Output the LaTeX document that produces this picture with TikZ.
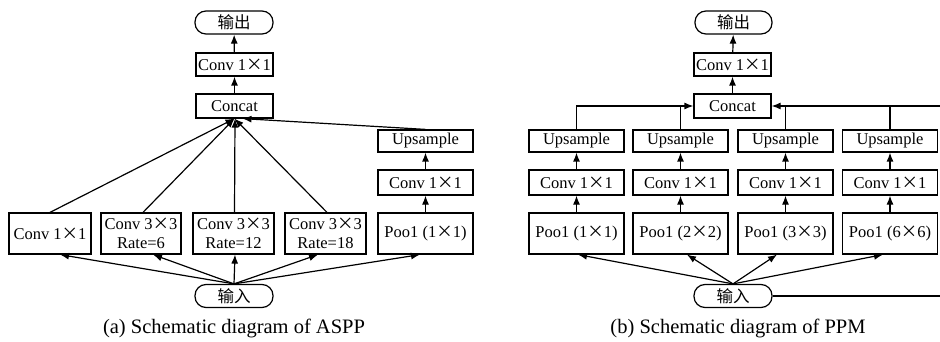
\documentclass[tikz,border=0pt]{standalone}
\usepackage{fontspec}
\setmainfont{Liberation Serif}
\newfontfamily\cjk{Noto Sans CJK SC}
\usetikzlibrary{arrows.meta}
\newcommand\tms{{\cjk ×}}
\begin{document}
\begin{tikzpicture}[x=1pt,y=-1pt,
  box/.style={draw,line width=1.2pt,inner sep=0pt,font=\fontsize{16.5}{18}\selectfont,align=center},
  pill/.style={box,rounded corners=11pt,minimum width=78pt,minimum height=23pt},
  arr/.style={line width=1.2pt,-{Latex[length=9pt,width=7pt]}},
  ln/.style={line width=1.2pt},
  captext/.style={font=\fontsize{20.5}{22}\selectfont}]
\useasboundingbox (0,0) rectangle (940,342);
% ---------- (a) ASPP ----------
\node[pill] (outa) at (234,22.5) {\cjk 输出};
\node[box,minimum width=77pt,minimum height=23pt] (c1a) at (234.5,64.5) {Conv 1\tms1};
\node[box,minimum width=77pt,minimum height=24pt] (cata) at (234.5,106) {Concat};
\node[box,minimum width=95pt,minimum height=22pt] (upa) at (425.5,141) {Upsample};
\node[box,minimum width=95pt,minimum height=25pt] (cva) at (425.5,182.5) {Conv 1\tms1};
\node[box,minimum width=82pt,minimum height=41pt] (a1) at (50,233.5) {Conv 1\tms1};
\node[box,minimum width=80pt,minimum height=41pt,font=\fontsize{16.5}{19}\selectfont] (a2) at (141,233.5) {Conv 3\tms3\\Rate=6};
\node[box,minimum width=81pt,minimum height=41pt,font=\fontsize{16.5}{19}\selectfont] (a3) at (233.5,233.5) {Conv 3\tms3\\Rate=12};
\node[box,minimum width=81pt,minimum height=41pt,font=\fontsize{16.5}{19}\selectfont] (a4) at (325.5,233.5) {Conv 3\tms3\\Rate=18};
\node[box,minimum width=95pt,minimum height=41pt] (a5) at (425.5,233.5) {Poo1 (1\tms1)};
\node[pill] (ina) at (234,296) {\cjk 输入};
\node[captext] (capa) at (234,328) {(a) Schematic diagram of ASPP};
\draw[arr] (c1a) -- (outa);
\draw[arr] (cata) -- (c1a);
\draw[arr] (cva) -- (upa);
\draw[arr] (a5) -- (cva);
\draw[arr] (a1.north) -- (cata.south);
\draw[arr] ([xshift=2pt]a2.north) -- (cata.south);
\draw[arr] ([xshift=1pt]a3.north) -- ([xshift=0.5pt]cata.south);
\draw[arr] ([xshift=1.5pt]a4.north) -- (cata.south);
\draw[arr] (upa.north) -- ([xshift=8pt]cata.south);
\draw[arr] (ina.north) -- ([xshift=10pt]a1.south);
\draw[arr] (ina.north) -- ([xshift=12pt]a2.south);
\draw[arr] (ina.north) -- ([xshift=1.5pt]a3.south);
\draw[arr] (ina.north) -- ([xshift=-7.5pt]a4.south);
\draw[arr] (ina.north) -- ([xshift=-5.5pt]a5.south);
% ---------- (b) PPM ----------
\node[pill,minimum width=77pt] (outb) at (733.5,22.5) {\cjk 输出};
\node[box,minimum width=77pt,minimum height=23pt] (c1b) at (732.5,64.5) {Conv 1\tms1};
\node[box,minimum width=77pt,minimum height=24pt] (catb) at (732.5,106) {Concat};
\foreach \i/\x/\t in {1/576.5/1\tms1, 2/680.5/2\tms2, 3/785.5/3\tms3, 4/890/6\tms6}{
  \node[box,minimum width=95pt,minimum height=22pt] (u\i) at (\x,141) {Upsample};
  \node[box,minimum width=95pt,minimum height=25pt] (v\i) at (\x,182.5) {Conv 1\tms1};
  \node[box,minimum width=95pt,minimum height=41pt] (p\i) at (\x,233.5) {Poo1 (\t)};
  \draw[arr] (p\i) -- (v\i);
  \draw[arr] (v\i) -- (u\i);
}
\node[pill,minimum width=78pt] (inb) at (733,296) {\cjk 输入};
\node[captext] (capb) at (738,328) {(b) Schematic diagram of PPM};
\coordinate (rtop) at (940,106);
\coordinate (rbot) at (940,296);
\draw[arr] (c1b) -- (outb);
\draw[arr] (catb) -- (c1b);
\draw[arr] (u1.north) |- (catb.west);
\draw[ln] (u2.north) -- (u2.north |- catb.west);
\draw[arr] (rtop) -- (catb.east);
\draw[ln] (u3.north) -- (u3.north |- catb.east);
\draw[ln] (u4.north) -- (u4.north |- catb.east);
\draw[arr] (inb.north) -- ([xshift=1.5pt]p1.south);
\draw[arr] (inb.north) -- ([xshift=6.5pt]p2.south);
\draw[arr] (inb.north) -- ([xshift=-8.5pt]p3.south);
\draw[arr] (inb.north) -- ([xshift=-7pt]p4.south);
\draw[ln] (inb.east) -- (rbot);
\end{tikzpicture}
\end{document}
